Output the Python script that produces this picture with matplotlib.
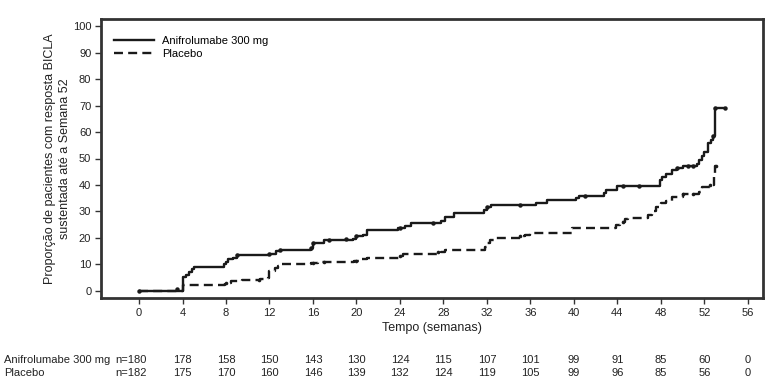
import matplotlib
matplotlib.use("Agg")
import matplotlib.pyplot as plt
import matplotlib.transforms as mtrans
from matplotlib.lines import Line2D

plt.rcParams['font.family'] = ['Liberation Sans', 'DejaVu Sans']

# Anifrolumabe 300 mg step curve (time in weeks, cumulative %)
ani_t = [0, 4.0, 4.3, 4.6, 4.9, 5.1, 7.8, 8.0, 8.2, 8.6, 9.0, 12.0, 12.6, 13.0, 15.8, 16.0, 17.0,
         19.7, 20.0, 20.6, 21.0, 23.8, 24.5, 25.0, 27.8, 28.1, 29.0, 31.7, 32.0, 32.4, 36.5, 37.5,
         40.2, 40.5, 42.8, 43.0, 44.0, 47.9, 48.1, 48.5, 49.0, 49.5, 50.0, 51.3, 51.5, 51.8, 52.0,
         52.3, 52.6, 52.8, 53.0, 53.9]
ani_v = [0, 5, 6, 7, 8, 9, 10, 11, 12, 12.5, 13.5, 14, 15, 15.5, 16, 18, 19,
         19.5, 20.5, 21, 23, 23.8, 24.5, 25.7, 26.5, 28, 29.3, 30.5, 31.5, 32.4, 33, 34.3,
         35.2, 35.8, 37, 38, 39.6, 42, 43.1, 44, 45.6, 46.5, 47.3, 48, 49.4, 51, 52.6,
         55.7, 57, 58.5, 69, 69]
ani_cens_t = [0, 3.5, 9, 12, 13, 15.8, 16, 17.5, 19, 20, 24, 27, 32, 35, 41, 44.5, 46,
              49.5, 50.5, 51, 52.8, 53, 53.9]
ani_cens_v = [0, 0.5, 13.5, 14, 15.5, 16, 18, 19, 19.5, 20.5, 23.8, 25.7, 31.5, 32.4, 35.8, 39.6, 39.6,
              46.5, 47.3, 47.3, 58.5, 69, 69]

# Placebo step curve
pla_t = [0, 4.0, 7.9, 8.5, 9.5, 11.1, 11.9, 12.0, 12.5, 12.8, 13.0, 15.8, 16.5, 19.8, 20.5, 21.0,
         24.0, 24.3, 27.8, 28.1, 31.8, 32.0, 32.3, 32.8, 35.2, 35.5, 36.0, 39.8, 43.9, 44.2, 44.7,
         45.0, 46.8, 47.2, 47.6, 48.0, 48.5, 49.0, 50.0, 51.5, 51.8, 52.5, 52.9, 53.0, 53.1]
pla_v = [0, 2.3, 3.0, 3.5, 4.0, 4.3, 4.8, 7.6, 8.5, 9.5, 10.2, 10.5, 10.8, 11.2, 11.8, 12.5,
         13.2, 13.9, 14.5, 15.4, 16.5, 18, 19.2, 19.8, 20.5, 21.2, 21.9, 23.6, 25, 26, 27,
         27.4, 28.5, 30, 31.5, 33, 34, 35.5, 36.6, 37.5, 39.3, 40, 44, 47, 47]
pla_cens_t = [8, 11, 16, 17, 20, 24, 27.5, 35, 44.5, 50, 51, 52.5, 53.1]
pla_cens_v = [3.0, 4.0, 10.5, 10.8, 11.2, 13.2, 14.5, 20.5, 26, 36.6, 36.6, 40, 47]

# Risk table
risk_times = [0, 4, 8, 12, 16, 20, 24, 28, 32, 36, 40, 44, 48, 52, 56]
ani_risk = ["n=180", 178, 158, 150, 143, 130, 124, 115, 107, 101, 99, 91, 85, 60, 0]
pla_risk = ["n=182", 175, 170, 160, 146, 139, 132, 124, 119, 105, 99, 96, 85, 56, 0]

xticks = list(range(0, 57, 4))
yticks = list(range(0, 101, 10))

W, H = 775, 391
fig = plt.figure(figsize=(W / 100, H / 100), dpi=100)
ax = fig.add_axes([101 / W, 1 - 298 / H, (763 - 101) / W, (298 - 19) / H])

col = '#1a1a1a'
tcol = '#222222'
dash = (0, (3.8, 2.2))
ax.step(ani_t, ani_v, where='post', color=col, lw=1.7, solid_capstyle='butt')
ax.step(pla_t, pla_v, where='post', color=col, lw=1.7, linestyle=dash)
ax.plot(ani_cens_t, ani_cens_v, 'o', color=col, ms=3.2, mew=0)
ax.plot(pla_cens_t, pla_cens_v, 'o', color=col, ms=2.6, mew=0)

ax.set_xlim(-3.5, 57.4)
ax.set_ylim(-2.8, 102.8)
ax.set_xticks(xticks)
ax.set_yticks(yticks)
ax.tick_params(axis='both', direction='out', length=4, width=1, colors='#333333',
               labelsize=8, labelcolor=tcol, pad=3)
for s in ax.spines.values():
    s.set_linewidth(2.0)
    s.set_color('#333333')

ax.set_xlabel('Tempo (semanas)', fontsize=9, color=tcol, labelpad=3)
ax.set_ylabel('Proporção de pacientes com resposta BICLA\nsustentada até a Semana 52',
              fontsize=9, color=tcol, labelpad=1, linespacing=1.35)

handles = [Line2D([], [], color=col, lw=1.7),
           Line2D([], [], color=col, lw=1.7, linestyle=dash)]
ax.legend(handles, ['Anifrolumabe 300 mg', 'Placebo'], loc='upper left',
          bbox_to_anchor=(0.005, 0.975), frameon=False, fontsize=8,
          handlelength=3.6, handletextpad=0.7, labelspacing=0.3)

# risk table
ys = [1 - 360 / H, 1 - 373 / H]
fig.text(4 / W, ys[0], 'Anifrolumabe 300 mg', fontsize=8, color=tcol, va='center')
fig.text(4 / W, ys[1], 'Placebo', fontsize=8, color=tcol, va='center')
trans = mtrans.blended_transform_factory(ax.transData, fig.transFigure)
for t, a, p in zip(risk_times, ani_risk, pla_risk):
    xt = t if t > 0 else -0.7
    ax.text(xt, ys[0], str(a), transform=trans, fontsize=8, color=tcol, ha='center', va='center')
    ax.text(xt, ys[1], str(p), transform=trans, fontsize=8, color=tcol, ha='center', va='center')

fig.savefig('out.png', dpi=100)
